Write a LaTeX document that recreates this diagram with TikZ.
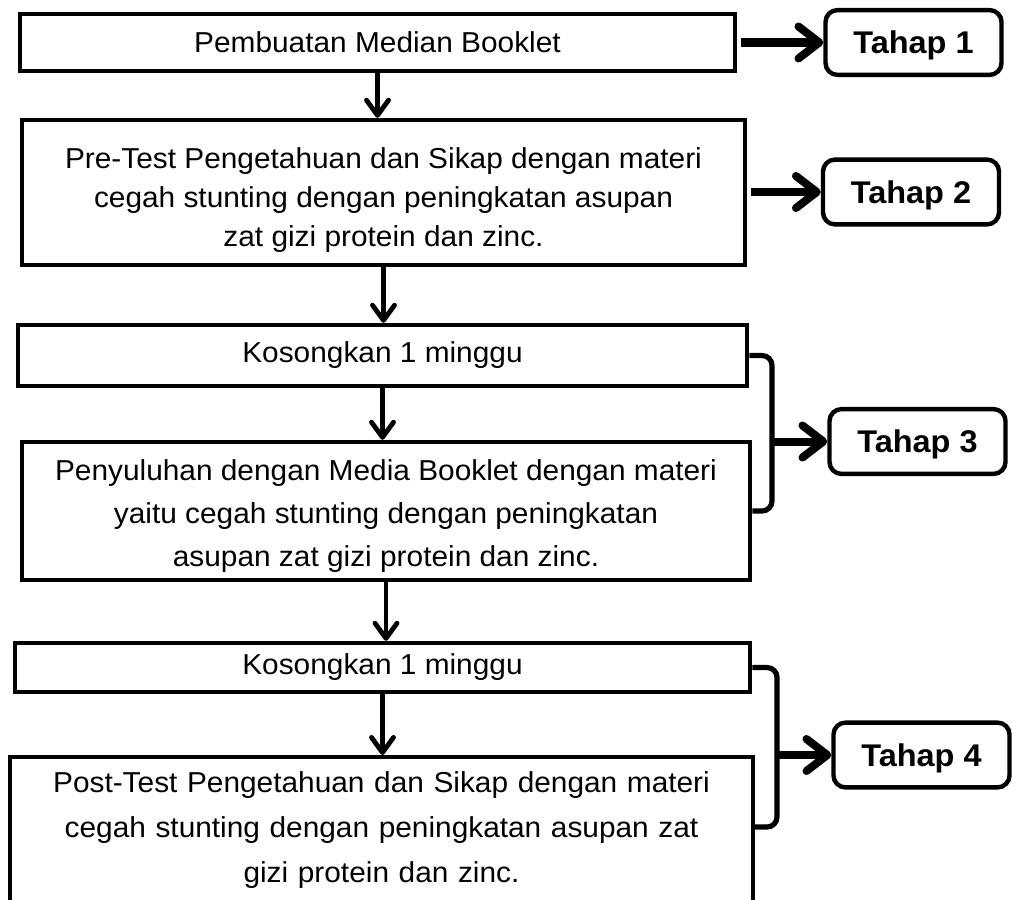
\documentclass[tikz,border=0pt]{standalone}
\usepackage{fontspec}
\setmainfont{Liberation Sans}[FakeStretch=1.035]
\usetikzlibrary{arrows.meta, positioning}
\tikzset{
  stepbox/.style={draw, line width=0.11cm, inner sep=0pt, align=center, font=\fontsize{20.5}{29}\selectfont},
  tahap/.style={draw, rounded corners=0.3cm, line width=0.11cm, minimum width=4.4cm, minimum height=1.62cm, text depth=0pt, font=\bfseries\fontsize{22.3}{26}\selectfont},
  down/.style={line width=0.12cm, -{Straight Barb[length=0.38cm, width=0.55cm, round]}},
  side/.style={line width=0.2cm, -{Straight Barb[length=0.52cm, width=0.8cm, round]}},
  brace/.style={line width=0.13cm, rounded corners=0.25cm}
}

\begin{document}
\begin{tikzpicture}[x=0.025cm, y=-0.025cm]
\useasboundingbox (0,0) rectangle (1012,900);
\clip (0,0) rectangle (1012,900);
\node[stepbox, minimum width=17.875cm, minimum height=1.425cm] (b1) at (377.5,42.5) {Pembuatan Median Booklet};
\node[stepbox, minimum width=18.075cm, minimum height=3.625cm, text height=2.85cm, font=\fontsize{20.5}{27.9}\selectfont] (b2) at (383.5,192.5) {Pre-Test Pengetahuan dan Sikap dengan materi\\cegah stunting dengan peningkatan asupan\\zat gizi protein dan zinc.};
\node[stepbox, minimum width=18.225cm, minimum height=1.525cm] (b3) at (382.5,355.5) {Kosongkan 1 minggu};
\node[stepbox, minimum width=18.2cm, minimum height=3.45cm, text height=2.9cm, font=\fontsize{20.5}{30.5}\selectfont] (b4) at (386,511) {Penyuluhan dengan Media Booklet dengan materi\\yaitu cegah stunting dengan peningkatan\\asupan zat gizi protein dan zinc.};
\node[stepbox, minimum width=18.375cm, minimum height=1.225cm] (b5) at (382.5,667.5) {Kosongkan 1 minggu};
\node[stepbox, anchor=north, text width=18.575cm, inner ysep=0.37cm, text depth=4cm, font=\fontsize{20.5}{32}\selectfont] (b6) at (381.5,755) {Post-Test Pengetahuan dan Sikap dengan materi\\cegah stunting dengan peningkatan asupan zat\\gizi protein dan zinc.};

\node[tahap] (t1) at (913.5,42.5) {Tahap 1};
\node[tahap] (t2) at (911,192) {Tahap 2};
\node[tahap] (t3) at (917.5,441.5) {Tahap 3};
\node[tahap] (t4) at (921.5,755) {Tahap 4};

\coordinate (br3) at (772,441.5);
\coordinate (br4) at (777,755);
\coordinate (br4b) at (753,827);

\draw[down] (b1.south) -- (b1.south |- b2.north);
\draw[down] (b2.south) -- (b2.south |- b3.north);
\draw[down] (b3.south) -- (b3.south |- b4.north);
\draw[down] (b4.south) -- (b4.south |- b5.north);
\draw[down] (b5.south) -- (b5.south |- b6.north);

\draw[side] ([xshift=0.1cm]b1.east) -- (t1.west);
\draw[side] ([xshift=0.1cm]b2.east |- t2.west) -- (t2.west);
\draw[brace] (b3.east) -| (br3) |- (b4.east);
\draw[side] (br3) -- (t3.west);
\draw[brace] (b5.east) -| (br4) |- (br4b);
\draw[side] (br4) -- (t4.west);
\end{tikzpicture}
\end{document}
